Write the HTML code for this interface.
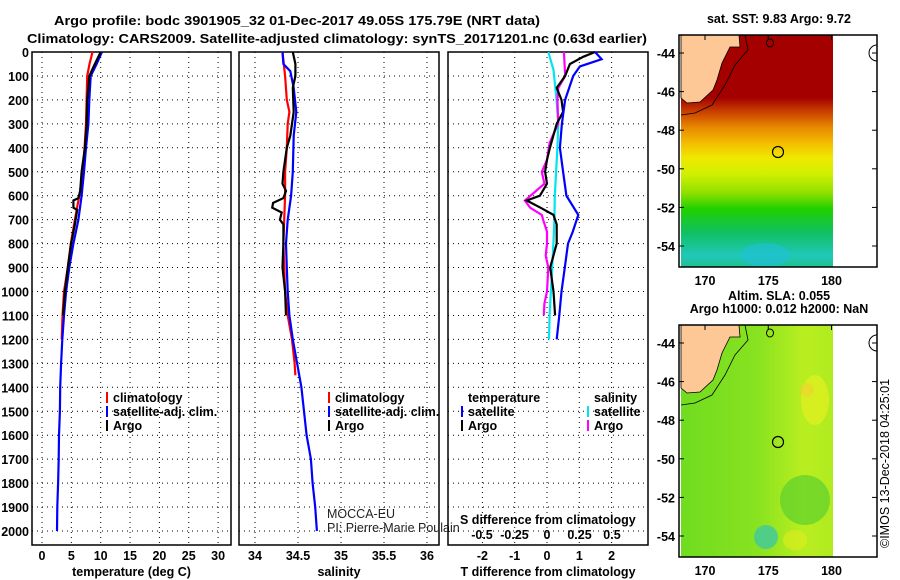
<!DOCTYPE html>
<html><head><meta charset="utf-8"><style>
html,body{margin:0;padding:0;background:#fff;}
svg{display:block;font-family:"Liberation Sans",sans-serif;}
.t{font-weight:bold;font-size:13px;}
.tk{font-weight:bold;font-size:12.5px;}
.grid{stroke:#000;stroke-width:1;stroke-dasharray:1,4;}
</style></head><body>
<svg id="fig" width="900" height="580" viewBox="0 0 900 580">
<text class="t" x="54" y="25" textLength="486" lengthAdjust="spacingAndGlyphs">Argo profile: bodc 3901905_32 01-Dec-2017 49.05S 175.79E (NRT data)</text>
<text class="t" x="27" y="43" textLength="620" lengthAdjust="spacingAndGlyphs">Climatology: CARS2009. Satellite-adjusted climatology: synTS_20171201.nc (0.63d earlier)</text>
<g id="p1"></g>
<g id="p2"></g>
<g id="p3"></g>
<g id="maps"></g>
</svg>
<script>
// ---- data ----
const depthTicks = [0,100,200,300,400,500,600,700,800,900,1000,1100,1200,1300,1400,1500,1600,1700,1800,1900,2000];
const tempTicks = [0,5,10,15,20,25,30];
const salTicks = [34,34.5,35,35.5,36];
const salTickLabels = ["34","34.5","35","35.5","36"];
const tdiffTicks = [-2,-1,0,1,2];
const sdiffTicks = [-0.5,-0.25,0,0.25,0.5];

const tClimDepth = [0,50,100,300,500,600,700,800,900,1000,1100,1200];
const tClimVal   = [8.6,8.1,7.7,7.5,7.0,6.35,5.6,4.9,4.4,3.75,3.5,3.35];
const tSatDepth = [0,50,100,200,300,400,500,600,700,800,900,1000,1100,1200,1300,1400,1500,1600,1700,1800,1900,2000];
const tSatVal   = [10.2,9.3,8.3,8.05,7.9,7.5,7.15,6.75,6.2,5.35,4.65,4.1,3.75,3.45,3.25,3.1,3.05,2.9,2.85,2.75,2.6,2.55];
const tArgoDepth = [0,50,100,200,300,400,500,580,610,620,650,660,690,720,800,900,1000,1100];
const tArgoVal   = [10.0,9.0,8.05,7.7,7.6,7.3,6.75,6.5,6.2,5.35,5.35,6.0,5.8,5.6,4.95,4.4,3.9,3.6];

const sClimDepth = [0,100,200,250,300,400,500,600,700,800,900,1000,1100,1200,1300,1350];
const sClimVal   = [34.32,34.35,34.37,34.40,34.38,34.37,34.35,34.35,34.34,34.33,34.34,34.35,34.38,34.43,34.46,34.47];
const sSatDepth = [0,50,80,150,250,350,500,600,700,800,900,1000,1100,1200,1300,1400,1500,1600,1700,1800,1900,2000];
const sSatVal   = [34.32,34.33,34.41,34.45,34.48,34.45,34.44,34.42,34.38,34.36,34.37,34.38,34.40,34.44,34.49,34.54,34.57,34.60,34.65,34.67,34.70,34.72];
const sArgoDepth = [0,50,100,150,250,350,400,450,500,550,580,610,630,650,670,700,720,800,900,1000,1100];
const sArgoVal   = [34.44,34.47,34.47,34.44,34.45,34.41,34.37,34.35,34.33,34.32,34.36,34.33,34.21,34.20,34.31,34.29,34.33,34.33,34.32,34.35,34.36];

const dTSatDepth = [0,30,60,100,200,300,400,500,600,680,750,800,900,1000,1100,1200];
const dTSatVal   = [1.49,1.69,1.02,0.81,0.56,0.46,0.40,0.50,0.60,0.97,0.80,0.65,0.55,0.45,0.38,0.30];
const dTArgoDepth = [0,20,50,100,150,200,250,300,400,450,500,550,600,620,650,680,720,800,900,1000,1100];
const dTArgoVal   = [1.49,1.12,0.71,0.56,0.30,0.45,0.50,0.30,0.09,0.0,-0.06,0.0,-0.22,-0.63,-0.2,0.2,0.3,0.3,0.1,0.2,0.25];
const dSSatDepth = [0,75,200,300,400,500,600,700,800,900,1000,1100,1200];
const dSSatVal   = [0.01,0.05,0.074,0.087,0.08,0.07,0.06,0.057,0.049,0.04,0.03,0.02,0.015];
const dSArgoDepth = [0,100,150,200,300,330,380,450,500,550,620,650,680,700,750,800,850,900,1000,1050,1100];
const dSArgoVal   = [0.13,0.14,0.087,0.08,0.087,0.06,0.02,0.0,-0.04,-0.02,-0.17,-0.13,-0.04,-0.03,0.0,0.0,-0.01,0.01,0.0,-0.02,-0.025];

const mapLonTicks = [170,175,180];
const mapLatTicks = [-44,-46,-48,-50,-52,-54];

// ---- helpers ----
const NS="http://www.w3.org/2000/svg";
function mk(parent,tag,attrs,text){const e=document.createElementNS(NS,tag);for(const k in attrs)e.setAttribute(k,attrs[k]);if(text!==undefined)e.textContent=text;parent.appendChild(e);return e;}
const Y0=52, YS=0.2395, BOT=545;
const yD = d => Y0 + d*YS;
const xT = v => 42 + v*5.87;
const xS = v => 255 + (v-34)*86;
const xDT = v => 547 + v*32.3;
const xDS = v => 547 + v*130;

function panel(g,x0,x1,vticks,xf,labels,xlabel,left){
  for(const d of depthTicks){
    const l=mk(g,'line',{x1:x0,x2:x1,y1:yD(d),y2:yD(d),class:'grid'});
    
    
    if(left){const t=mk(g,'text',{x:29,y:yD(d)+5,'text-anchor':'end',class:'tk'},String(d));
      
      }
  }
  vticks.forEach((v,i)=>{
    const x=xf(v);
    const l=mk(g,'line',{x1:x,x2:x,y1:Y0,y2:BOT,class:'grid'});
    
    
    if(labels){const t=mk(g,'text',{x:x,y:560,'text-anchor':'middle',class:'tk'},labels[i]);
      
      }
  });
  const r=mk(g,'rect',{x:x0,y:Y0,width:x1-x0,height:BOT-Y0,fill:'none',stroke:'#000','stroke-width':1.5});
  
  
  const t=mk(g,'text',{x:(x0+x1)/2,y:576,'text-anchor':'middle',class:'tk'},xlabel);
  
  
}
function series(g,depths,vals,xf,color,name){
  const pts=depths.map((d,i)=>xf(vals[i]).toFixed(1)+','+yD(d).toFixed(1)).join(' ');
  const p=mk(g,'polyline',{points:pts,fill:'none',stroke:color,'stroke-width':2.2});
  
  
}
function legend(g,x,y,color,label){
  const l=mk(g,'line',{x1:x,x2:x,y1:y-10,y2:y+1,stroke:color,'stroke-width':2});
  
  
  const t=mk(g,'text',{x:x+6,y:y,class:'tk'},label);
  
  
}

// panel 1
const p1=document.getElementById('p1');
panel(p1,32,231,tempTicks,xT,tempTicks.map(String),'temperature (deg C)',true);
series(p1,tClimDepth,tClimVal,xT,'#ff0000','temp-climatology-line');
series(p1,tSatDepth,tSatVal,xT,'#0000ff','temp-satellite-line');
series(p1,tArgoDepth,tArgoVal,xT,'#000000','temp-argo-line');
legend(p1,107,402,'#ff0000','climatology');
legend(p1,107,416,'#0000ff','satellite-adj. clim.');
legend(p1,107,430,'#000000','Argo');

// panel 2
const p2=document.getElementById('p2');
panel(p2,239,439,salTicks,xS,salTickLabels,'salinity',false);
series(p2,sClimDepth,sClimVal,xS,'#ff0000','sal-climatology-line');
series(p2,sSatDepth,sSatVal,xS,'#0000ff','sal-satellite-line');
series(p2,sArgoDepth,sArgoVal,xS,'#000000','sal-argo-line');
legend(p2,329,402,'#ff0000','climatology');
legend(p2,329,416,'#0000ff','satellite-adj. clim.');
legend(p2,329,430,'#000000','Argo');
let tx=mk(p2,'text',{x:327,y:518,'font-size':12.5,fill:'#222'},'MOCCA-EU');


tx=mk(p2,'text',{x:327,y:532,'font-size':12.5,fill:'#222'},'PI: Pierre-Marie Poulain');



// panel 3
const p3=document.getElementById('p3');
panel(p3,448,648,tdiffTicks,xDT,tdiffTicks.map(String),'T difference from climatology',false);
series(p3,dSSatDepth,dSSatVal,xDS,'#00e5ee','sdiff-satellite-line');
series(p3,dSArgoDepth,dSArgoVal,xDS,'#ff00ff','sdiff-argo-line');
series(p3,dTArgoDepth,dTArgoVal,xDT,'#000000','tdiff-argo-line');
series(p3,dTSatDepth,dTSatVal,xDT,'#0000ff','tdiff-satellite-line');
tx=mk(p3,'text',{x:468,y:402,class:'tk'},'temperature');


tx=mk(p3,'text',{x:594,y:402,class:'tk'},'salinity');


legend(p3,462,416,'#0000ff','satellite');
legend(p3,462,430,'#000000','Argo');
legend(p3,588,416,'#00e5ee','satellite');
legend(p3,588,430,'#ff00ff','Argo');
tx=mk(p3,'text',{x:460,y:524,class:'tk'},'S difference from climatology');


sdiffTicks.forEach(v=>{
  const t=mk(p3,'text',{x:xDS(v),y:539,'text-anchor':'middle',class:'tk'},String(v));
  
  
});

// ---- maps ----
const mg=document.getElementById('maps');
const defs=mk(mg,'defs',{});
const g1=mk(defs,'linearGradient',{id:'sst',x1:0,y1:0,x2:0,y2:1});
[[0,'#a40000'],[0.27,'#a40000'],[0.33,'#c84000'],[0.4,'#e88a00'],[0.47,'#f4c000'],[0.53,'#f0e800'],[0.6,'#d0f000'],[0.68,'#90e000'],[0.75,'#20d000'],[0.85,'#10c060'],[0.95,'#20c8b8'],[1,'#20c090']].forEach(s=>mk(g1,'stop',{offset:s[0],'stop-color':s[1]}));
const g2=mk(defs,'linearGradient',{id:'sla',x1:0,y1:0,x2:1,y2:0});
[[0,'#70dc20'],[0.5,'#88e220'],[0.8,'#b8ee20'],[1,'#b0ec20']].forEach(s=>mk(g2,'stop',{offset:s[0],'stop-color':s[1]}));
const lonX = lon => 705 + (lon-170)*12.65;
function drawMap(top,title,fill,name){
  const latY = lat => top + 18 + (-44-lat)*19.3;
  const g=mk(mg,'g',{});
  
  
  mk(g,'rect',{x:681,y:top,width:152,height:232,fill:fill});
  if(fill==='url(#sla)'){
    mk(g,'ellipse',{cx:766,cy:top+212,rx:12,ry:12,fill:'#40c8a0',opacity:0.8});
    mk(g,'ellipse',{cx:815,cy:top+75,rx:14,ry:25,fill:'#e4f020',opacity:0.7});
    mk(g,'ellipse',{cx:807,cy:top+65,rx:7,ry:7,fill:'#f0d030',opacity:0.6});
    mk(g,'ellipse',{cx:805,cy:top+175,rx:25,ry:25,fill:'#50cc30',opacity:0.6});
    mk(g,'ellipse',{cx:795,cy:top+215,rx:12,ry:10,fill:'#d8ec20',opacity:0.7});
  } else {
    mk(g,'ellipse',{cx:765,cy:top+220,rx:25,ry:12,fill:'#20c0d8',opacity:0.6});
  }
  mk(g,'polygon',{points:`681,${top} 739,${top} 740,${top+12} 730,${top+12} 722,${top+28} 717,${top+45} 713,${top+55} 700,${top+67} 687,${top+68} 681,${top+63}`,fill:'#fdc896',stroke:'#000','stroke-width':0.8});
  mk(g,'polyline',{points:`745,${top} 748,${top+15} 735,${top+30} 725,${top+50} 712,${top+70} 695,${top+78} 681,${top+80}`,fill:'none',stroke:'#000','stroke-width':0.8});
  mk(g,'ellipse',{cx:770,cy:top+8,rx:3.5,ry:4,fill:'none',stroke:'#000','stroke-width':1});
  const c=mk(g,'circle',{cx:778,cy:top+117,r:5.5,fill:'none',stroke:'#000','stroke-width':1.2});
  
  
  mk(g,'path',{d:`M877,${top+10} a8,8 0 0,0 0,16`,fill:'none',stroke:'#000','stroke-width':1});
  mk(g,'rect',{x:679,y:top,width:198,height:232,fill:'none',stroke:'#000','stroke-width':1.5});
  mapLatTicks.forEach(lat=>{
    const y=latY(lat);
    mk(g,'line',{x1:679,x2:684,y1:y,y2:y,stroke:'#000'});
    mk(g,'line',{x1:872,x2:877,y1:y,y2:y,stroke:'#000'});
    const t=mk(g,'text',{x:675,y:y+5,'text-anchor':'end',class:'tk'},String(lat));
    
    
  });
  mapLonTicks.forEach(lon=>{
    const x=lonX(lon);
    mk(g,'line',{x1:x,x2:x,y1:top,y2:top+5,stroke:'#000'});
    const t=mk(g,'text',{x:x,y:top+250,'text-anchor':'middle',class:'tk'},String(lon));
    
    
  });
  title.forEach((s,i)=>{
    const t=mk(g,'text',{x:779,y:top-12-(title.length-1-i)*13,'text-anchor':'middle',class:'tk'},s);
    
    
  });
}
drawMap(35,['sat. SST: 9.83 Argo: 9.72'],'url(#sst)','sst-map');
drawMap(325,['Altim. SLA: 0.055','Argo h1000: 0.012 h2000: NaN'],'url(#sla)','sla-map');
tx=mk(mg,'text',{x:0,y:0,'font-size':12.5,fill:'#000',transform:'translate(889,548) rotate(-90)'},'©IMOS 13-Dec-2018 04:25:01');


</script>
</body></html>
